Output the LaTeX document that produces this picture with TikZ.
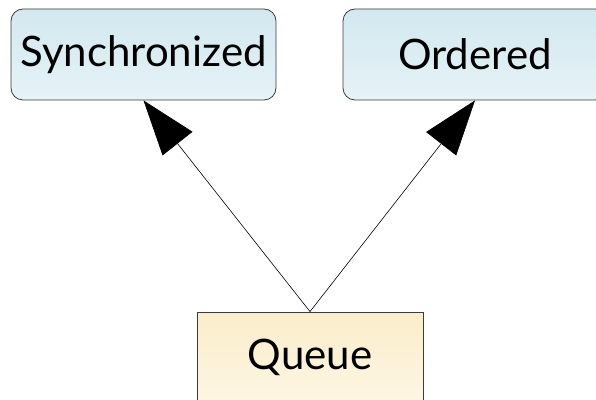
\documentclass[tikz,border=0pt]{standalone}
\usepackage{fontspec}
\setmainfont{Lato}
\usetikzlibrary{arrows.meta}
\definecolor{bluetop}{RGB}{210,232,239}
\definecolor{bluebot}{RGB}{230,243,246}
\definecolor{yeltop}{RGB}{251,237,203}
\definecolor{yelbot}{RGB}{253,246,228}
\definecolor{edgegray}{RGB}{60,60,60}
\tikzset{
  classbox/.style={draw=edgegray, line width=0.8pt, rounded corners=12pt,
    top color=bluetop, bottom color=bluebot, minimum height=91pt,
    inner sep=0pt, font=\fontsize{42pt}{48pt}\selectfont},
  implbox/.style={draw=edgegray, line width=0.8pt,
    top color=yeltop, bottom color=yelbot, minimum height=91pt,
    inner sep=0pt, font=\fontsize{42pt}{48pt}\selectfont},
  inherit/.style={line width=0.6pt, -{Triangle[length=55pt,width=38pt]}}
}
\begin{document}
\begin{tikzpicture}[x=1pt,y=1pt]
\useasboundingbox (0,0) rectangle (596,399);
\node[classbox, minimum width=265pt] (s) at (143.5,344.5) {Synchronized};
\node[classbox, minimum width=264pt] (o) at (475,344.5) {Ordered};
\node[implbox, minimum width=226pt] (q) at (310,41.5) {Queue};
\draw[inherit] (q.north) -- (s.south);
\draw[inherit] (q.north) -- (o.south);
\end{tikzpicture}
\end{document}
